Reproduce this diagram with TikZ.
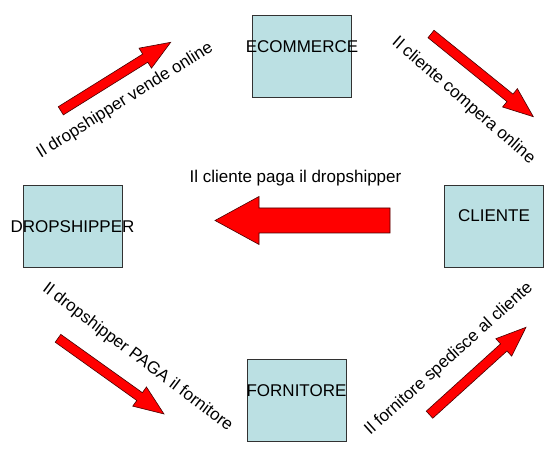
\documentclass[tikz,border=0pt]{standalone}
\usepackage{fontspec}
\setmainfont{Liberation Sans}
\usetikzlibrary{calc}
\definecolor{boxfill}{RGB}{187,224,227}
\definecolor{boxline}{RGB}{50,50,50}
\definecolor{arrline}{RGB}{70,0,0}
\tikzset{
  box/.style={draw=boxline, fill=boxfill, line width=0.8pt, inner sep=0pt,
              minimum width=99pt, minimum height=82pt},
  lbl/.style={inner sep=0pt, font=\fontsize{17}{20}\selectfont},
  rlbl/.style={inner sep=0pt, font=\fontsize{17}{20}\selectfont},
  blk/.style={draw=arrline, fill=red, line width=0.6pt, line join=miter}
}
% tail, tip, shaft half width, head half width, head length
\newcommand\blockarrow[5]{%
  \coordinate (#1-b) at ($(#2)!#5!(#1)$);
  \draw[blk] ($(#1)!#3!90:(#2)$) -- ($(#1-b)!#3!-90:(#1)$) -- ($(#1-b)!#4!-90:(#1)$)
     -- (#2) -- ($(#1-b)!#4!90:(#1)$) -- ($(#1-b)!#3!90:(#1)$) -- ($(#1)!#3!-90:(#2)$) -- cycle;}
\begin{document}
\begin{tikzpicture}[x=1pt,y=-1pt]
\useasboundingbox (0,0) rectangle (560,454);
% boxes
\node[box] (ecom) at (302,56.5) {};
\node[box] (cli) at (493.5,226.5) {};
\node[box] (drop) at (72.5,226) {};
\node[box] (forn) at (296.5,400.5) {};
\node[lbl] (ecomt) at (302,47) {ECOMMERCE};
\node[lbl] (clit) at (494,216) {CLIENTE};
\node[lbl] (dropt) at (72.5,227) {DROPSHIPPER};
\node[lbl] (fornt) at (296.5,391) {FORNITORE};
% arrows
\coordinate (a1t) at (60.8,110.8); \coordinate (a1p) at (170.7,42.3);
\coordinate (a2t) at (431,34);     \coordinate (a2p) at (533.3,116.7);
\coordinate (a3t) at (58,338.3);   \coordinate (a3p) at (164,414);
\coordinate (a4t) at (429.5,414.7);\coordinate (a4p) at (526,327.3);
\coordinate (a5t) at (390,220.5);  \coordinate (a5p) at (215,220.5);
\blockarrow{a1t}{a1p}{4.8pt}{11.8pt}{30pt}
\blockarrow{a2t}{a2p}{4.8pt}{11.8pt}{30pt}
\blockarrow{a3t}{a3p}{4.8pt}{11.8pt}{30pt}
\blockarrow{a4t}{a4p}{4.8pt}{11.8pt}{30pt}
\blockarrow{a5t}{a5p}{12.5pt}{24pt}{44pt}
% labels
\node[lbl, anchor=base] (mid) at (295.5,183) {Il cliente paga il dropshipper};
\node[rlbl, rotate=32] (l1) at (125,100.5) {Il dropshipper vende online};
\node[rlbl, rotate=-41] (l2) at (463.5,100.8) {Il cliente compera online};
\node[rlbl, rotate=-37] (l3) at (137.5,357.5) {Il dropshipper PAGA il fornitore};
\node[rlbl, rotate=42] (l4) at (449,359) {Il fornitore spedisce al cliente};
\end{tikzpicture}
\end{document}
